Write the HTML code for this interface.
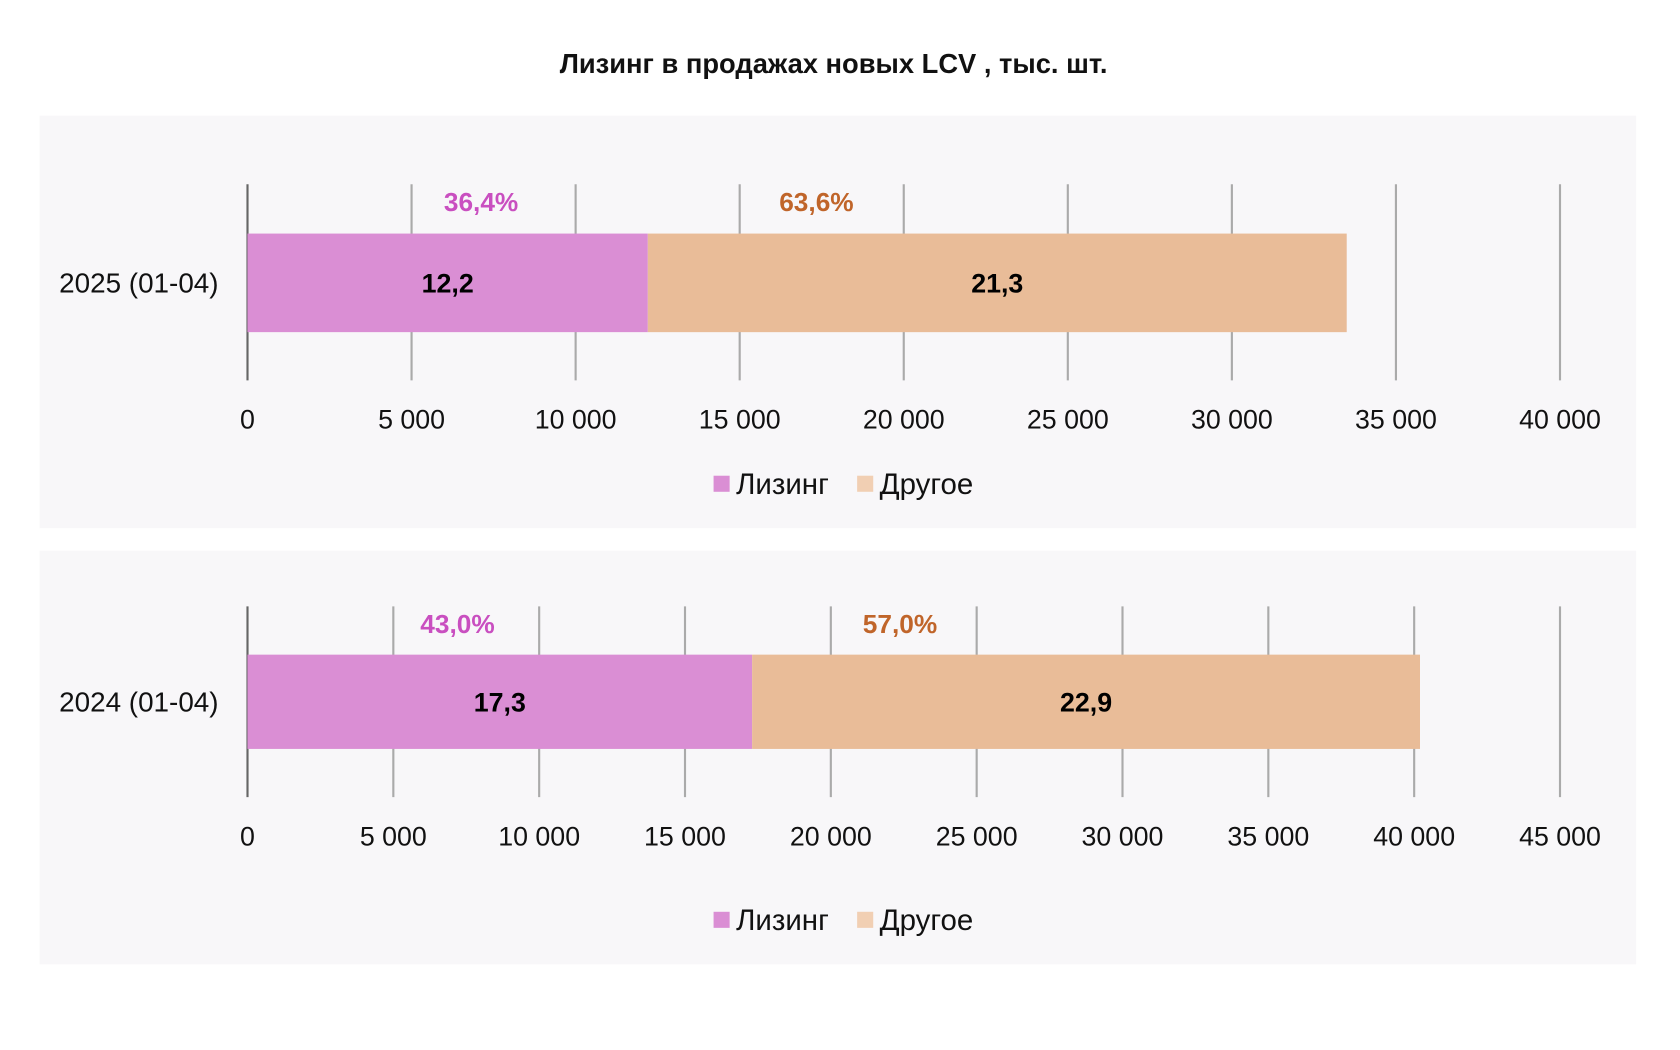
<!DOCTYPE html>
<html><head><meta charset="utf-8"><style>
html,body{margin:0;padding:0;background:#fff}
svg{display:block}
text{font-family:"Liberation Sans",sans-serif}
</style></head><body>
<svg id="chart" width="1680" height="1050" viewBox="0 0 1568 980" xmlns="http://www.w3.org/2000/svg">
<text x="778" y="68" text-anchor="middle" font-size="25.5" font-weight="bold" fill="#111">Лизинг в продажах новых LCV , тыс. шт.</text>
<g id="panels"></g>
</svg>
<script>
const categories = ["2025 (01-04)", "2024 (01-04)"];
const leasing = [12200, 17300];
const other = [21300, 22900];
const leasingLabels = ["12,2", "17,3"];
const otherLabels = ["21,3", "22,9"];
const leasingPct = ["36,4%", "43,0%"];
const otherPct = ["63,6%", "57,0%"];
const axisMax = [40000, 45000];
const tickStep = 5000;

const NS = "http://www.w3.org/2000/svg";
const root = document.getElementById("panels");
function mk(tag, attrs, parent, txt){
  const e = document.createElementNS(NS, tag);
  for (const k in attrs) e.setAttribute(k, attrs[k]);
  if (txt !== undefined) e.textContent = txt;
  parent.appendChild(e);
  return e;
}
const layouts = [
  {py:108, ph:385, gTop:172, gBot:355, bTop:218, bBot:310, tickY:400, legY:452, pctY:197, pctL:449, pctO:762},
  {py:514, ph:386, gTop:566, gBot:744, bTop:611, bBot:699, tickY:789, legY:859, pctY:591, pctL:427, pctO:840}
];
const x0 = 231, x1 = 1456;
function fmt(v){ return v===0 ? "0" : String(v).replace(/\B(?=(\d{3})+(?!\d))/g, " "); }

layouts.forEach((L, i) => {
  const g = mk("g", {}, root);
  
  
  const bg = mk("rect", {x:37, y:L.py, width:1490, height:L.ph, fill:"#F8F7F9"}, g);
  
  
  const xs = v => x0 + (x1 - x0) * v / axisMax[i];
  for (let t = 0; t <= axisMax[i]; t += tickStep) {
    const gl = mk("line", {x1:xs(t), x2:xs(t), y1:L.gTop, y2:L.gBot, stroke: t===0 ? "#666" : "#AAA", "stroke-width": 2}, g);
    
    
    const tl = mk("text", {x:xs(t), y:L.tickY, "text-anchor":"middle", "font-size":25, fill:"#111"}, g, fmt(t));
    
    
  }
  const b1 = mk("rect", {x:xs(0), y:L.bTop, width:xs(leasing[i])-xs(0), height:L.bBot-L.bTop, fill:"#DA8ED4"}, g);
  
  
  const b2 = mk("rect", {x:xs(leasing[i]), y:L.bTop, width:xs(leasing[i]+other[i])-xs(leasing[i]), height:L.bBot-L.bTop, fill:"#E9BC98"}, g);
  
  
  const my = (L.bTop + L.bBot) / 2 + 9;
  const v1 = mk("text", {x:(xs(0)+xs(leasing[i]))/2, y:my, "text-anchor":"middle", "font-size":25, "font-weight":"bold", fill:"#000"}, g, leasingLabels[i]);
  
  
  const v2 = mk("text", {x:(xs(leasing[i])+xs(leasing[i]+other[i]))/2, y:my, "text-anchor":"middle", "font-size":25, "font-weight":"bold", fill:"#000"}, g, otherLabels[i]);
  
  
  const p1 = mk("text", {x:L.pctL, y:L.pctY, "text-anchor":"middle", "font-size":24.5, "font-weight":"bold", fill:"#C94FC0"}, g, leasingPct[i]);
  
  
  const p2 = mk("text", {x:L.pctO, y:L.pctY, "text-anchor":"middle", "font-size":24.5, "font-weight":"bold", fill:"#C0652A"}, g, otherPct[i]);
  
  
  const cl = mk("text", {x:204, y:my, "text-anchor":"end", "font-size":26, fill:"#111"}, g, categories[i]);
  
  
  const s1 = mk("rect", {x:666, y:L.legY-8, width:15, height:15, fill:"#DA8ED4"}, g);
  
  
  const t1 = mk("text", {x:687, y:L.legY+9, "font-size":27.5, fill:"#111"}, g, "Лизинг");
  
  
  const s2 = mk("rect", {x:800, y:L.legY-8, width:15, height:15, fill:"#F1CFB3"}, g);
  
  
  const t2 = mk("text", {x:821, y:L.legY+9, "font-size":27.5, fill:"#111"}, g, "Другое");
  
  
});
</script>
</body></html>
